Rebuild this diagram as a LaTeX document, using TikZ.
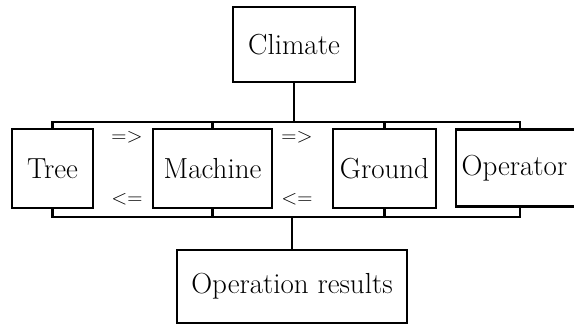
\documentclass[tikz,border=0pt]{standalone}
\usepackage{tikz}

\begin{document}
\begin{tikzpicture}[x=1pt, y=-1pt,
boxnode/.style={rectangle, draw=black, line width=2.5pt, inner sep=0pt, font=\fontsize{29}{33}\selectfont},
signnode/.style={inner sep=0pt, font=\fontsize{21}{25}\selectfont},
link/.style={line width=2.5pt}
]
        \useasboundingbox (0, 0) rectangle (574, 325);
        \clip (0, 0) rectangle (574, 325);

        \node [boxnode, minimum width=122pt, minimum height=75pt] (climate) at (294, 44.5) {Climate};

        \node [boxnode, minimum width=81pt, minimum height=79pt] (tree) at (52.5, 168.5) {Tree};
        \node [boxnode, minimum width=119pt, minimum height=79pt] (machine) at (212.5, 168.5) {Machine};
        \node [boxnode, minimum width=103pt, minimum height=79pt] (ground) at (384.5, 168.5) {Ground};
        \node [boxnode, minimum width=128pt, minimum height=77pt] (operator) at (520, 168) {Operator\hspace*{11pt}};

        \node [boxnode, minimum width=230pt, minimum height=73pt] (results) at (292, 286.5) {Operation results};

        \node [signnode] (fwd1) at (127, 137) {=>};
        \node [signnode] (back1) at (127, 199) {<=};
        \node [signnode] (fwd2) at (297, 137) {=>};
        \node [signnode] (back2) at (297, 199) {<=};

        \coordinate (topbus) at (0, 122);
        \coordinate (lowbus) at (0, 217);

        \draw [link] (tree.north) |- (topbus -| operator.north) -- (operator.north);
        \draw [link] (tree.south) |- (lowbus -| operator.south) -- (operator.south);
        \draw [link] (machine.north) -- (machine.north |- topbus);
        \draw [link] (ground.north) -- (ground.north |- topbus);
        \draw [link] (machine.south) -- (machine.south |- lowbus);
        \draw [link] (ground.south) -- (ground.south |- lowbus);
        \draw [link] (climate.south) -- (climate.south |- topbus);
        \draw [link] (results.north) -- (results.north |- lowbus);

\end{tikzpicture}
\end{document}
